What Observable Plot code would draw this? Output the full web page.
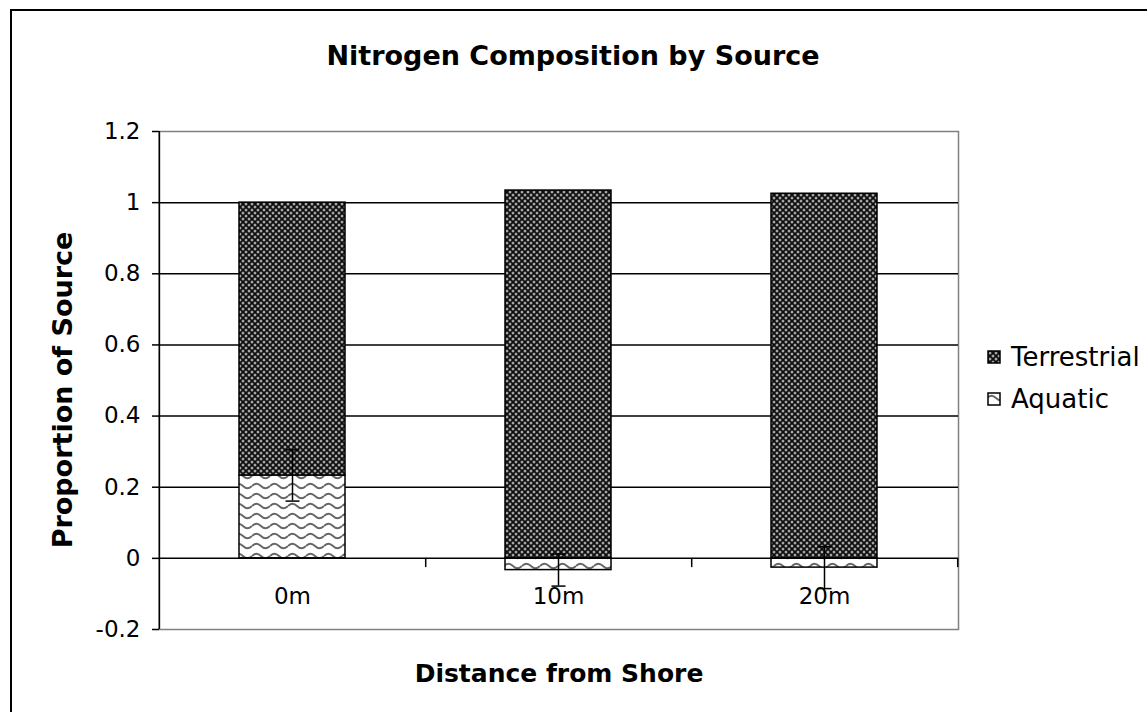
<!DOCTYPE html>
<html><head><meta charset="utf-8">
<script src="https://cdn.jsdelivr.net/npm/d3@7"></script>
<script src="https://cdn.jsdelivr.net/npm/@observablehq/plot@0.6"></script>
<style>
html,body{margin:0;padding:0;background:#fff;overflow:hidden;}
#wrap{position:relative;width:1147px;height:712px;overflow:hidden;font-family:"DejaVu Sans",Verdana,sans-serif;color:#000;}
#border{position:absolute;left:10px;top:9px;width:1300px;height:900px;border:2px solid #000;box-sizing:border-box;}
#chart{position:absolute;left:0;top:0;}
.t{position:absolute;white-space:nowrap;font-weight:bold;}
#title{left:573px;top:55px;transform:translate(-50%,-50%);font-size:27px;}
#ytitle{left:62px;top:390px;transform:translate(-50%,-50%) rotate(-90deg);font-size:27px;}
#xtitle{left:559px;top:673px;transform:translate(-50%,-50%);font-size:25px;}
.leg{position:absolute;left:987px;font-size:26px;white-space:nowrap;display:flex;align-items:center;transform:translateY(-50%);}
.leg svg{margin-right:9px;}
</style></head>
<body><div id="wrap"><div id="border"></div><div id="chart"></div>
<div id="title" class="t">Nitrogen Composition by Source</div>
<div id="ytitle" class="t">Proportion of Source</div>
<div id="xtitle" class="t">Distance from Shore</div>
<div id="legend"></div>
</div>
<script>
const distances = ["0m", "10m", "20m"];
const sources = ["Aquatic", "Terrestrial"];
const aquatic = [0.233, -0.033, -0.026];
const terrestrial = [0.767, 1.034, 1.025];
const aquaticErr = [0.072, 0.045, 0.059];
const yTicks = [-0.2, 0, 0.2, 0.4, 0.6, 0.8, 1, 1.2];
const gridTicks = [0.2, 0.4, 0.6, 0.8, 1];
const legendOrder = ["Terrestrial", "Aquatic"];

const patternId = {Aquatic: "pat-aquatic", Terrestrial: "pat-terrestrial"};
const rows = distances.flatMap((d, i) => [
  {dist: d, source: "Aquatic", value: aquatic[i]},
  {dist: d, source: "Terrestrial", value: terrestrial[i]}
]);
const errRows = distances.map((d, i) => ({dist: d, y: aquatic[i], e: aquaticErr[i]}));

// horizontal cap symbol for error bars
const capSymbol = {draw(ctx, size) { ctx.moveTo(-7, 0); ctx.lineTo(7, 0); }};

const W = 1147, H = 712;
const chart = Plot.plot({
  width: W, height: H,
  marginLeft: 159, marginRight: 189, marginTop: 131, marginBottom: 83,
  style: {fontFamily: "DejaVu Sans, Verdana, sans-serif", fontSize: "23px", background: "transparent", color: "#000"},
  x: {domain: distances, paddingInner: 0.6, paddingOuter: 0.3, axis: null},
  y: {domain: [-0.2, 1.2], axis: null},
  color: {type: "identity"},
  marks: [
    Plot.frame({stroke: "#808080", strokeWidth: 1.5}),
    Plot.gridY(gridTicks, {stroke: "#000", strokeOpacity: 1, strokeWidth: 1.5}),
    Plot.barY(rows, {x: "dist", y: "value", fill: d => `url(#${patternId[d.source]})`, z: "source", stroke: "#000", strokeWidth: 1.5}),
    Plot.ruleY([0], {stroke: "#000", strokeWidth: 1.5}),
    Plot.ruleX(distances, {x: d => d, dx: 133.2, y1: 0, y2: -0.026, stroke: "#000", strokeWidth: 1.5}),
    Plot.ruleX(distances.slice(0, 1), {x: d => d, dx: -133.2, y1: -0.2, y2: 1.2, stroke: "#000", strokeWidth: 1.5}),
    Plot.ruleX(errRows, {x: "dist", y1: d => d.y - d.e, y2: d => d.y + d.e, stroke: "#000", strokeWidth: 1.5}),
    Plot.dot(errRows, {x: "dist", y: d => d.y + d.e, symbol: capSymbol, r: 7, fill: "none", stroke: "#000", strokeWidth: 1.5}),
    Plot.dot(errRows, {x: "dist", y: d => d.y - d.e, symbol: capSymbol, r: 7, fill: "none", stroke: "#000", strokeWidth: 1.5}),
    Plot.axisY(yTicks, {tickSize: 7, tickPadding: 12, fontSize: 23, label: null, stroke: "#000", strokeWidth: 1.5, tickFormat: d => d < 0 ? "-" + Math.abs(d) : String(d)}),
    Plot.text(distances, {x: d => d, y: 0, dy: 38, text: d => d, fontSize: 23, fill: "#000"})
  ]
});
document.getElementById("chart").appendChild(chart);

// patterns
const svg = d3.select(chart);
const defs = svg.insert("defs", ":first-child");
const pt = defs.append("pattern").attr("id", "pat-terrestrial").attr("patternUnits", "userSpaceOnUse").attr("width", 6).attr("height", 6);
pt.append("rect").attr("width", 6).attr("height", 6).attr("fill", "#0e0e0e");
[[0,0],[6,0],[0,6],[6,6],[3,3]].forEach(([cx, cy]) => {
  pt.append("circle").attr("cx", cx).attr("cy", cy).attr("r", 1.5).attr("fill", "#8c8c8c");
  pt.append("circle").attr("cx", cx).attr("cy", cy).attr("r", 0.55).attr("fill", "#fff");
});
const pa = defs.append("pattern").attr("id", "pat-aquatic").attr("patternUnits", "userSpaceOnUse").attr("width", 18).attr("height", 10);
pa.append("rect").attr("width", 18).attr("height", 10).attr("fill", "#fff");
pa.append("path").attr("d", "M0,6 Q4.5,1.5 9,6 T18,6").attr("fill", "none").attr("stroke", "#666").attr("stroke-width", 1.8);

// legend
const legY = {Terrestrial: 357, Aquatic: 399};
const leg = d3.select("#legend");
legendOrder.forEach(s => {
  const row = leg.append("div").attr("class", "leg").style("top", legY[s] + "px");
  const sw = row.append("svg").attr("width", 15).attr("height", 15);
  sw.append("rect").attr("x", 1).attr("y", 1).attr("width", 12).attr("height", 12)
    .attr("fill", `url(#${patternId[s]})`).attr("stroke", "#000").attr("stroke-width", 1.5);
  row.append("span").text(s);
});
</script>
</body></html>
